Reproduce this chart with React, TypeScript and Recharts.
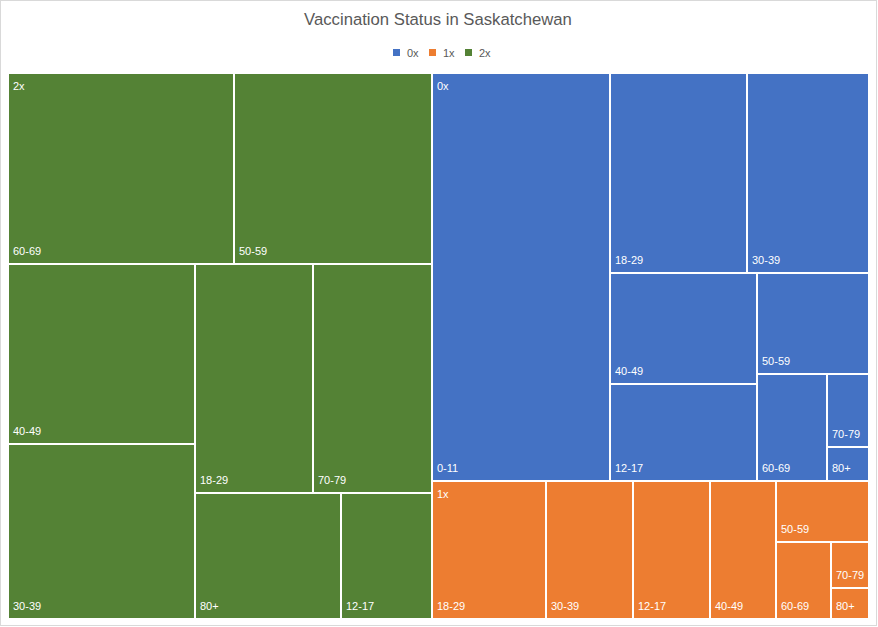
import { Treemap } from 'recharts'

/* ---------- data ---------- */

const statuses = ['0x', '1x', '2x']
const statusColors: Record<string, string> = {
  '0x': '#4472C4',
  '1x': '#ED7D31',
  '2x': '#548235',
}

// age groups in each status, largest first (as Excel lays them out)
const ages2x = ['60-69', '50-59', '40-49', '30-39', '18-29', '70-79', '80+', '12-17']
const counts2x = [43070, 37914, 33600, 32800, 27100, 27100, 18380, 11470]

const ages0x = ['0-11', '18-29', '30-39', '40-49', '12-17', '50-59', '60-69', '70-79', '80+']
const counts0x = [72624, 27300, 24500, 16350, 14288, 11282, 7490, 3086, 1376]

const ages1x = ['18-29', '30-39', '12-17', '40-49', '50-59', '60-69', '70-79', '80+']
const counts1x = [15594, 12006, 10626, 9050, 5650, 4251, 1755, 1104]

const buildGroup = (status: string, ages: string[], counts: number[]) => ({
  name: status,
  children: ages.map((age, i) => ({ name: age, value: counts[i], status })),
})

const treeData = [
  buildGroup('2x', ages2x, counts2x),
  buildGroup('0x', ages0x, counts0x),
  buildGroup('1x', ages1x, counts1x),
]

const FONT = '"Liberation Sans", Arial, sans-serif'

/* ---------- cell ---------- */

// eslint-disable-next-line @typescript-eslint/no-explicit-any
function TreemapCell(props: any) {
  const { x, y, width, height, depth, name, index, status } = props
  if (depth !== 2) return <g />
  return (
    <g>
      <rect x={x} y={y} width={width} height={height} fill={statusColors[status]} stroke="#fff" strokeWidth={2} />
      {index === 0 && (
        <text x={x + 5} y={y + 17} fill="#fff" fontSize={11} fontFamily={FONT}>
          {status}
        </text>
      )}
      <text x={x + 5} y={y + height - 9} fill="#fff" fontSize={11} fontFamily={FONT}>
        {name}
      </text>
    </g>
  )
}

/* ---------- chart ---------- */

export default function App() {
  return (
    <div
      style={{
        position: 'absolute',
        left: 0,
        top: 0,
        width: 877,
        height: 626,
        border: '1px solid #D9D9D9',
        boxSizing: 'border-box',
        background: '#fff',
      }}
    >
      <svg width={877} height={70} style={{ position: 'absolute', left: -1, top: -1 }}>
        <text x={438} y={25} textAnchor="middle" fontSize={16.7} fill="#595959" fontFamily={FONT}>
          Vaccination Status in Saskatchewan
        </text>
        {statuses.map((s, i) => (
          <g key={s}>
            <rect x={393 + i * 36} y={49} width={7} height={7} fill={statusColors[s]} />
            <text x={407 + i * 36} y={56.5} fontSize={11} fill="#595959" fontFamily={FONT}>
              {s}
            </text>
          </g>
        ))}
      </svg>

      <div style={{ position: 'absolute', left: 7, top: 72 }}>
        <Treemap
          width={861}
          height={546}
          data={treeData}
          dataKey="value"
          aspectRatio={0.97}
          isAnimationActive={false}
          content={<TreemapCell />}
        />
      </div>
    </div>
  )
}
